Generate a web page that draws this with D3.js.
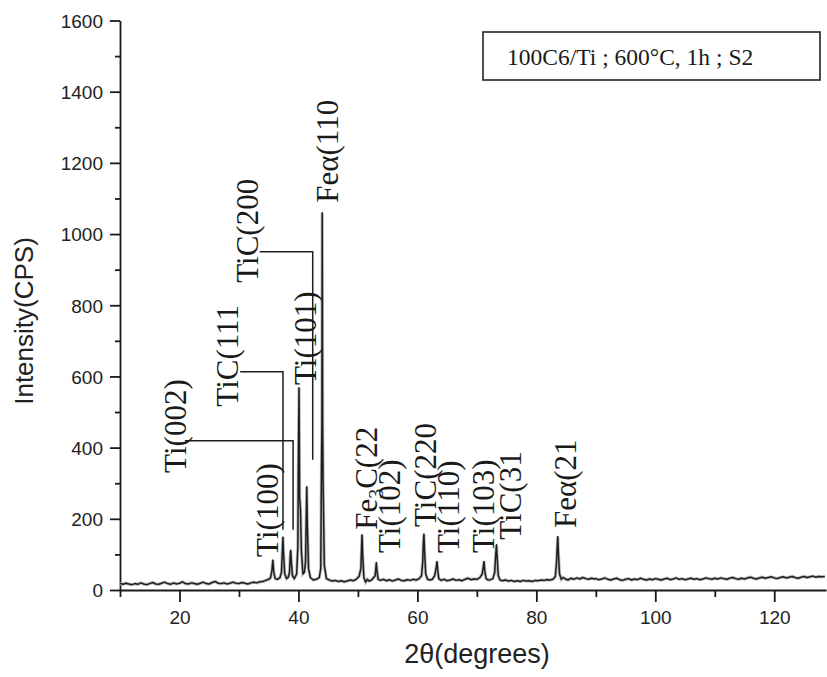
<!DOCTYPE html>
<html>
<head>
<meta charset="utf-8">
<script src="https://cdn.jsdelivr.net/npm/d3@7"></script>
<style>
  body { margin: 0; background: #fff; }
  svg { display: block; }
  .axis text { font-family: "Liberation Sans", Arial, sans-serif; font-size: 19px; fill: #222; }
  .axis path, .axis line { stroke: #1a1a1a; stroke-width: 1.8; }
  .peak-label { font-family: "Liberation Serif", "Times New Roman", serif; font-size: 31px; fill: #1a1a1a; }
</style>
</head>
<body>
<script>
// 2theta (degrees) and counts
const scan = [
  [10,18],[10.5,16],[11,19],[11.5,17],[12,15],[12.5,18],[13,16],[13.5,20],[14,17],[14.5,15],
  [15,18],[15.5,21],[16,17],[16.5,16],[17,19],[17.5,22],[18,18],[18.5,16],[19,20],[19.5,17],
  [20,19],[20.5,23],[21,18],[21.5,17],[22,20],[22.5,18],[23,16],[23.5,19],[24,22],[24.5,18],
  [25,17],[25.5,21],[26,24],[26.5,19],[27,18],[27.5,20],[28,17],[28.5,19],[29,22],[29.5,19],
  [30,18],[30.5,21],[31,19],[31.5,17],[32,20],[32.5,22],[33,20],[33.5,23],[34,24],[34.5,27],
  [35,30],[35.3,34],[35.55,55],[35.7,84],[35.85,50],[36.1,32],[36.5,30],[36.9,35],
  [37.15,50],[37.3,110],[37.4,149],[37.5,100],[37.7,45],[38,32],[38.3,36],
  [38.5,50],[38.62,95],[38.7,112],[38.8,80],[39,40],[39.3,32],[39.7,45],
  [39.9,120],[40,380],[40.1,568],[40.2,260],[40.35,225],[40.5,110],[40.75,45],[41,50],
  [41.2,80],[41.32,210],[41.4,290],[41.5,180],[41.7,60],[42,35],[42.5,28],[43,30],[43.5,35],
  [43.75,60],[43.88,350],[43.95,470],[44,1060],[44.07,460],[44.15,300],[44.35,70],[44.7,32],
  [45.2,28],[45.7,25],[46.2,27],[46.7,24],[47.2,26],[47.7,23],[48.2,25],[48.7,28],[49.2,26],
  [49.7,30],[50.2,38],[50.5,60],[50.62,120],[50.7,155],[50.8,100],[51,35],[51.3,22],[51.6,30],
  [51.9,25],[52.3,28],[52.9,40],[53.05,68],[53.1,77],[53.2,55],[53.4,30],[53.8,27],[54.3,30],
  [54.8,26],[55.3,29],[55.8,25],[56.3,28],[56.8,31],[57.3,27],[57.8,26],[58.3,29],[58.8,27],
  [59.3,30],[59.8,28],[60.3,32],[60.7,40],[60.9,80],[61,130],[61.1,157],[61.2,110],[61.4,45],
  [61.7,30],[62.1,28],[62.5,30],[62.9,40],[63.15,62],[63.3,80],[63.42,55],[63.6,32],[64,27],
  [64.5,30],[65,26],[65.5,28],[66,31],[66.5,27],[67,29],[67.5,26],[68,30],[68.5,33],[69,29],
  [69.5,31],[70,30],[70.5,35],[70.9,45],[71.05,62],[71.2,80],[71.32,55],[71.55,32],[71.9,28],
  [72.3,29],[72.7,32],[73,50],[73.15,95],[73.3,127],[73.42,90],[73.6,40],[73.9,28],[74.3,26],
  [74.8,28],[75.3,25],[75.8,27],[76.3,24],[76.8,26],[77.3,24],[77.8,27],[78.3,25],[78.8,26],
  [79.3,24],[79.8,27],[80.3,26],[80.8,28],[81.3,27],[81.8,29],[82.3,28],[82.8,30],[83.2,38],
  [83.4,80],[83.52,125],[83.6,150],[83.7,105],[83.9,45],[84.2,30],[84.5,35],[84.9,31],[85.3,28],
  [85.8,33],[86.3,30],[86.8,34],[87.3,31],[87.8,35],[88.3,32],[88.8,30],[89.3,33],[89.8,31],
  [90,32],[90.5,29],[91,31],[91.5,34],[92,30],[92.5,28],[93,31],[93.5,33],[94,29],[94.5,27],
  [95,30],[95.5,32],[96,28],[96.5,31],[97,29],[97.5,33],[98,30],[98.5,28],[99,31],[99.5,29],
  [100,32],[100.5,30],[101,28],[101.5,31],[102,33],[102.5,29],[103,31],[103.5,34],[104,30],
  [104.5,32],[105,29],[105.5,31],[106,33],[106.5,30],[107,32],[107.5,29],[108,31],[108.5,34],
  [109,32],[109.5,30],[110,33],[110.5,31],[111,34],[111.5,32],[112,30],[112.5,33],[113,35],
  [113.5,32],[114,30],[114.5,33],[115,31],[115.5,34],[116,36],[116.5,33],[117,31],[117.5,34],
  [118,36],[118.5,33],[119,35],[119.5,37],[120,34],[120.5,32],[121,35],[121.5,37],[122,34],
  [122.5,36],[123,38],[123.5,35],[124,33],[124.5,36],[125,38],[125.5,35],[126,37],[126.5,39],
  [127,36],[127.5,38],[128,37],[128.5,38]
];

const yTicks = [0, 200, 400, 600, 800, 1000, 1200, 1400, 1600];
const yMinorTicks = [100, 300, 500, 700, 900, 1100, 1300, 1500];
const xTicks = [20, 40, 60, 80, 100, 120];
const xMinorTicks = [10, 30, 50, 70, 90, 110];

// peak labels: text starts at (theta, counts) and runs upward
const peakLabels = [
  { parts: ["Ti(002)"], theta: 21.1, cps: 329 },
  { parts: ["TiC(111"], theta: 29.8, cps: 515 },
  { parts: ["TiC(200"], theta: 33.2, cps: 863 },
  { parts: ["Ti(101)"], theta: 42.9, cps: 576 },
  { parts: ["Feα(110"], theta: 46.7, cps: 1088 },
  { parts: ["Ti(100)"], theta: 36.5, cps: 93 },
  { parts: ["Fe", "3", "C(22"], theta: 53.2, cps: 169 },
  { parts: ["Ti(102)"], theta: 57.1, cps: 104 },
  { parts: ["TiC(220"], theta: 63.1, cps: 177 },
  { parts: ["Ti(110)"], theta: 67.0, cps: 104 },
  { parts: ["Ti(103)"], theta: 72.9, cps: 104 },
  { parts: ["TiC(31"], theta: 77.4, cps: 141 },
  { parts: ["Feα(21"], theta: 86.6, cps: 174 }
];

// leader lines from labels down to their peaks
const leaders = [
  [[20.9, 419], [39.1, 419], [39.1, 169]],
  [[30.2, 613], [37.4, 613], [37.4, 169]],
  [[33.5, 950], [42.4, 950], [42.4, 366]]
];

const sampleNote = "100C6/Ti ; 600°C, 1h ; S2";

const width = 827, height = 677;

const svg = d3.select('body').append('svg')
  .attr('width', width)
  .attr('height', height);

const x = d3.scaleLinear().domain([10, 128.7]).range([120, 826]);
const y = d3.scaleLinear().domain([0, 1600]).range([590, 20.5]);

// y axis
svg.append('g')
  .attr('class', 'axis')
  .attr('transform', `translate(${x(10)},0)`)
  .call(d3.axisLeft(y).tickValues(yTicks).tickFormat(d3.format('d'))
    .tickSize(10).tickSizeOuter(0).tickPadding(7))
  .call(g => g.selectAll('text').attr('dy', '0.36em'));

svg.append('g')
  .attr('class', 'axis')
  .attr('transform', `translate(${x(10)},0)`)
  .call(d3.axisLeft(y).tickValues(yMinorTicks).tickSize(5).tickFormat(''))
  .call(g => g.select('.domain').remove());

// x axis
svg.append('g')
  .attr('class', 'axis')
  .attr('transform', `translate(0,${y(0)})`)
  .call(d3.axisBottom(x).tickValues(xTicks).tickFormat(d3.format('d'))
    .tickSize(12).tickSizeOuter(0).tickPadding(9));

svg.append('g')
  .attr('class', 'axis')
  .attr('transform', `translate(0,${y(0)})`)
  .call(d3.axisBottom(x).tickValues(xMinorTicks).tickSize(7).tickFormat(''))
  .call(g => g.select('.domain').remove());

// scan line
const line = d3.line()
  .x(d => x(d[0]))
  .y(d => y(d[1]));

svg.append('path')
  .datum(scan)
  .attr('d', line)
  .attr('fill', 'none')
  .attr('stroke', '#bbb')
  .attr('stroke-width', 3.2);

svg.append('path')
  .datum(scan)
  .attr('d', line)
  .attr('fill', 'none')
  .attr('stroke', '#1e1e1e')
  .attr('stroke-width', 1.5)
  .attr('stroke-linejoin', 'round');

// leaders
svg.selectAll('.leader')
  .data(leaders)
  .enter()
  .append('path')
  .classed('leader', true)
  .attr('d', d3.line().x(d => x(d[0])).y(d => y(d[1])))
  .attr('fill', 'none')
  .attr('stroke', '#1e1e1e')
  .attr('stroke-width', 1.5);

// peak labels
peakLabels.forEach(p => {
  const t = svg.append('text')
    .attr('class', 'peak-label')
    .attr('transform', `translate(${x(p.theta)},${y(p.cps)}) rotate(-90)`);

  if (p.parts.length === 1) {
    t.text(p.parts[0]);
  } else {
    t.append('tspan').text(p.parts[0]);
    t.append('tspan').attr('font-size', 20).attr('dy', 6).text(p.parts[1]);
    t.append('tspan').attr('dy', -6).text(p.parts[2]);
  }
});

// sample box
svg.append('rect')
  .attr('x', 483)
  .attr('y', 32)
  .attr('width', 337)
  .attr('height', 48)
  .attr('fill', '#fff')
  .attr('stroke', '#222')
  .attr('stroke-width', 1.6);

svg.append('text')
  .attr('x', 507)
  .attr('y', 65)
  .attr('font-family', '"Liberation Serif", serif')
  .attr('font-size', 23.5)
  .attr('fill', '#1a1a1a')
  .text(sampleNote);

// axis titles
svg.append('text')
  .attr('transform', `translate(33,${(235 + 407) / 2}) rotate(-90)`)
  .attr('text-anchor', 'middle')
  .attr('font-family', '"Liberation Sans", Arial, sans-serif')
  .attr('font-size', 26)
  .attr('fill', '#222')
  .text('Intensity(CPS)');

svg.append('text')
  .attr('x', 477)
  .attr('y', 663)
  .attr('text-anchor', 'middle')
  .attr('font-family', '"Liberation Sans", Arial, sans-serif')
  .attr('font-size', 27)
  .attr('fill', '#222')
  .text('2θ(degrees)');
</script>
</body>
</html>
